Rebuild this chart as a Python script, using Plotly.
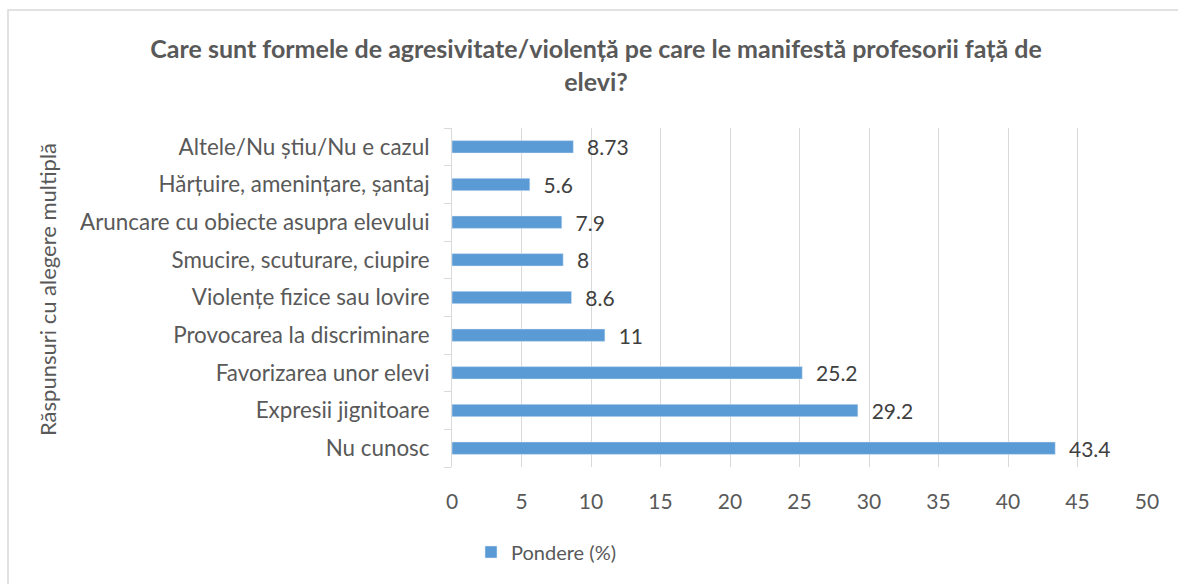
import plotly.graph_objects as go

categories = [
    "Nu cunosc",
    "Expresii jignitoare",
    "Favorizarea unor elevi",
    "Provocarea la discriminare",
    "Violențe fizice sau lovire",
    "Smucire, scuturare, ciupire",
    "Aruncare cu obiecte asupra elevului",
    "Hărțuire, amenințare, șantaj",
    "Altele/Nu știu/Nu e cazul",
]
values = [43.4, 29.2, 25.2, 11, 8.6, 8, 7.9, 5.6, 8.73]
x_ticks = [0, 5, 10, 15, 20, 25, 30, 35, 40, 45, 50]
series_name = "Pondere (%)"
title_text = "Care sunt formele de agresivitate/violență pe care le manifestă profesorii față de<br>elevi?"
y_title = "Răspunsuri cu alegere multiplă"

FONT = "Lato"
W, H = 1178, 584
L, R, T, B = 452, 31, 128, 117

fig = go.Figure()
fig.add_trace(go.Bar(
    y=categories, x=values, orientation="h", name=series_name,
    marker=dict(color="#5B9BD5"), width=0.33,
    text=[f"{v:g}" for v in values], textposition="outside",
    texttemplate="  %{text}", constraintext="none",
    textfont=dict(family=FONT, size=21, color="#404040"),
    cliponaxis=False,
))

pw = W - L - R
ph = H - T - B

fig.update_layout(
    width=W, height=H,
    margin=dict(l=L, r=R, t=T, b=B),
    paper_bgcolor="white", plot_bgcolor="white",
    font=dict(family=FONT, color="#595959"),
    title=dict(text=title_text, x=0.506, xanchor="center", y=1 - 58 / H, yanchor="middle",
               font=dict(family=FONT, size=25, color="#595959", weight="bold")),
    showlegend=True,
    legend=dict(orientation="h", x=(546 - L) / pw, xanchor="center",
                y=-(552 - (H - B)) / ph, yanchor="middle",
                font=dict(family=FONT, size=20, color="#595959"),
                itemwidth=30),
    xaxis=dict(range=[0, 50], tickvals=x_ticks, showgrid=True, gridcolor="#D9D9D9",
               gridwidth=1, zeroline=False, showline=False, ticks="",
               tickfont=dict(family=FONT, size=21, color="#595959"),
               ticklabelstandoff=20),
    yaxis=dict(type="category", categoryorder="array", categoryarray=categories,
               showline=True, linecolor="#D9D9D9", linewidth=1,
               ticks="outside", tickson="boundaries", ticklen=7, tickcolor="#D9D9D9",
               showgrid=False,
               tickfont=dict(family=FONT, size=22.4, color="#595959"),
               ticklabelstandoff=17),
    annotations=[dict(
        text=y_title, textangle=-90, xref="paper", yref="paper",
        x=(47 - L) / pw, y=(H - B - 290) / ph, xanchor="center", yanchor="middle",
        showarrow=False, font=dict(family=FONT, size=22, color="#595959"))],
    shapes=[dict(type="rect", xref="paper", yref="paper",
                 x0=(8 - L) / pw, x1=(1190 - L) / pw,
                 y0=(H - B - 600) / ph, y1=(H - B - 10) / ph,
                 line=dict(color="#D9D9D9", width=1.5), fillcolor="rgba(0,0,0,0)",
                 layer="below")],
)

fig.write_html("out.html", config={"displayModeBar": False},
               post_script="document.body.style.margin='0px';")
